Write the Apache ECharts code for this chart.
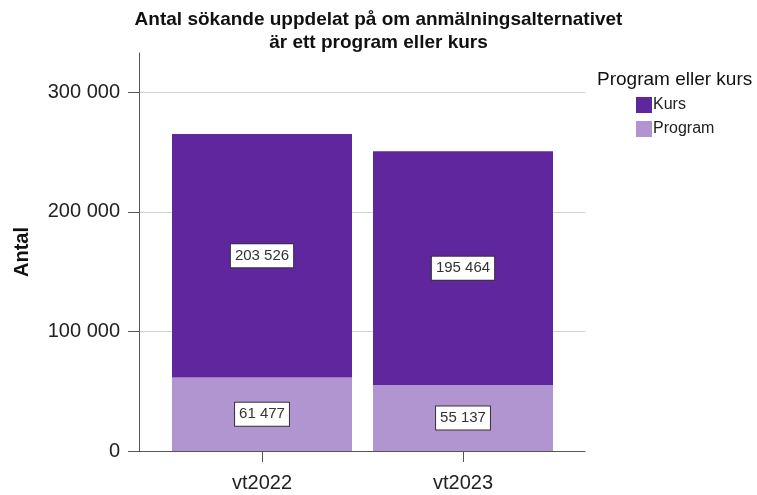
<!DOCTYPE html>
<html>
<head>
<meta charset="utf-8">
<script src="https://cdn.jsdelivr.net/npm/echarts@6/dist/echarts.min.js"></script>
<style>
  html, body { margin: 0; padding: 0; background: #fff; }
  #chart { width: 757px; height: 495px; }
</style>
</head>
<body>
<div id="chart"></div>
<script>
// data
var categories = ['vt2022', 'vt2023'];
var programValues = [61477, 55137];
var kursValues = [203526, 195464];
var yTicks = [0, 100000, 200000, 300000];

var kursColor = '#5f269e';
var programColor = '#b095d0';
var font = '"Liberation Sans", Arial, sans-serif';

// 300000 -> "300 000"
function fmt(v) {
  return String(v).replace(/\B(?=(\d{3})+(?!\d))/g, ' ');
}

var labelBox = {
  show: true,
  position: 'inside',
  formatter: function (p) { return fmt(p.value); },
  fontFamily: font,
  fontSize: 15,
  color: '#333',
  backgroundColor: '#fff',
  borderColor: '#333',
  borderWidth: 1,
  padding: [4, 4]
};

var chart = echarts.init(document.getElementById('chart'));
chart.setOption({
  animation: false,
  textStyle: { fontFamily: font },
  title: [
    {
      text: 'Antal sökande uppdelat på om anmälningsalternativet\när ett program eller kurs',
      left: 'center',
      top: 3,
      textStyle: { fontSize: 19, fontWeight: 'bold', color: '#111', lineHeight: 23, fontFamily: font }
    },
    {
      text: 'Program eller kurs',
      left: 592,
      top: 65,
      textStyle: { fontSize: 19, fontWeight: 'normal', color: '#111', fontFamily: font }
    }
  ],
  legend: {
    orient: 'vertical',
    left: 631,
    top: 92,
    itemWidth: 16,
    itemHeight: 16,
    itemGap: 8,
    icon: 'rect',
    data: ['Kurs', 'Program'],
    textStyle: { fontSize: 16, color: '#222', padding: [0, 0, 0, -4], fontFamily: font }
  },
  grid: [
    // frame: y labels, gridlines, x axis line
    { left: 139, top: 92.2, width: 446, height: 358.8 },
    // bars
    { left: 161.5, top: 53, width: 402, height: 398 }
  ],
  xAxis: [
    {
      gridIndex: 0,
      type: 'category',
      data: [''],
      axisLine: { show: true, lineStyle: { color: '#555' } },
      axisTick: { show: false },
      axisLabel: { show: false }
    },
    {
      gridIndex: 1,
      type: 'category',
      data: categories,
      axisLine: { show: false },
      axisTick: { show: true, alignWithLabel: true, length: 11, lineStyle: { color: '#555' } },
      axisLabel: { fontSize: 20, color: '#222', margin: 22 }
    }
  ],
  yAxis: [
    {
      gridIndex: 0,
      type: 'value',
      min: yTicks[0],
      max: yTicks[yTicks.length - 1],
      interval: 100000,
      axisLine: { show: false },
      axisTick: { show: true, length: 11, lineStyle: { color: '#555' } },
      axisLabel: { fontSize: 20, color: '#222', margin: 19, formatter: fmt },
      splitLine: { show: true, lineStyle: { color: '#d4d4d4' } }
    },
    {
      gridIndex: 1,
      type: 'value',
      min: 0,
      max: 332800,
      offset: 22.5,
      axisLine: { show: true, lineStyle: { color: '#555' } },
      axisTick: { show: false },
      axisLabel: { show: false },
      splitLine: { show: false },
      name: 'Antal',
      nameLocation: 'middle',
      nameGap: 107,
      nameTextStyle: { fontSize: 20, fontWeight: 'bold', color: '#111' }
    }
  ],
  series: [
    {
      name: 'Program',
      type: 'bar',
      stack: 'tot',
      xAxisIndex: 1,
      yAxisIndex: 1,
      barWidth: 180,
      data: programValues,
      itemStyle: { color: programColor },
      label: labelBox
    },
    {
      name: 'Kurs',
      type: 'bar',
      stack: 'tot',
      xAxisIndex: 1,
      yAxisIndex: 1,
      barWidth: 180,
      data: kursValues,
      itemStyle: { color: kursColor },
      label: labelBox
    }
  ]
});
</script>
</body>
</html>
